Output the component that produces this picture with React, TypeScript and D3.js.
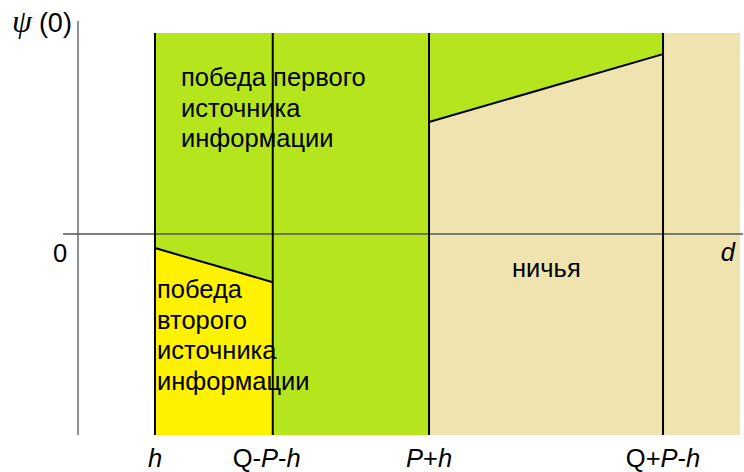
import React from "react";
import * as d3 from "d3";

// Boundaries on the d axis
const boundaryNames = ["h", "Q-P-h", "P+h", "Q+P-h"];
const boundaryValues = [1, 2.53, 4.56, 7.6];
const dMax = 8.6;

// Border between "second source wins" and the green zone, from h to Q-P-h
const secondWinEdge = [-0.07, -0.24];
// Border between "first source wins" and the draw zone, from P+h to Q+P-h
const drawEdge = [0.557, 0.895];

const regionColors = { first: "#b5e61d", second: "#fff200", draw: "#efe4b0" };

const firstText = ["победа первого", "источника", "информации"];
const secondText = ["победа", "второго", "источника", "информации"];
const drawText = "ничья";

const W = 744;
const H = 472;

export default function App() {
  const x = d3.scaleLinear().domain([0, dMax]).range([78, 740]);
  const y = d3.scaleLinear().domain([-1, 1]).range([435, 33]);
  const [bh, bq1, bp, bq2] = boundaryValues;

  const poly = (pts: [number, number][]) =>
    d3.line()(pts.map(([a, b]) => [x(a), y(b)] as [number, number])) + "Z";

  const greenFull = poly([
    [bh, 1],
    [bp, 1],
    [bp, -1],
    [bh, -1],
  ]);
  const greenUpper = poly([
    [bp, 1],
    [bq2, 1],
    [bq2, drawEdge[1]],
    [bp, drawEdge[0]],
  ]);
  const drawLower = poly([
    [bp, drawEdge[0]],
    [bq2, drawEdge[1]],
    [bq2, -1],
    [bp, -1],
  ]);
  const drawRight = poly([
    [bq2, 1],
    [dMax, 1],
    [dMax, -1],
    [bq2, -1],
  ]);
  const yellow = poly([
    [bh, secondWinEdge[0]],
    [bq1, secondWinEdge[1]],
    [bq1, -1],
    [bh, -1],
  ]);

  const textFont = "'Liberation Sans', Arial, sans-serif";
  const fs = 25.5;

  return (
    <svg
      width={W}
      height={H}
      style={{ position: "absolute", left: 0, top: 0, background: "#fff" }}
    >
      <path d={greenFull} fill={regionColors.first} />
      <path d={greenUpper} fill={regionColors.first} />
      <path d={drawLower} fill={regionColors.draw} />
      <path d={drawRight} fill={regionColors.draw} />
      <path d={yellow} fill={regionColors.second} />

      {/* region borders */}
      <line
        x1={x(bh)}
        y1={y(secondWinEdge[0])}
        x2={x(bq1)}
        y2={y(secondWinEdge[1])}
        stroke="#000"
        strokeWidth={2}
      />
      <line
        x1={x(bp)}
        y1={y(drawEdge[0])}
        x2={x(bq2)}
        y2={y(drawEdge[1])}
        stroke="#000"
        strokeWidth={2}
      />

      {/* axes */}
      <line x1={63} y1={y(0)} x2={743} y2={y(0)} stroke="#555" strokeWidth={1.3} />
      <line x1={x(0)} y1={21} x2={x(0)} y2={435} stroke="#555" strokeWidth={1.3} />

      {/* boundary lines */}
      {boundaryValues.map((v, i) => (
        <line
          key={i}
          x1={x(v)}
          y1={y(1)}
          x2={x(v)}
          y2={y(-1)}
          stroke="#000"
          strokeWidth={2}
        />
      ))}

      {/* region captions */}
      <text fontFamily={textFont} fontSize={fs} fill="#000">
        {firstText.map((t, i) => (
          <tspan key={i} x={181} y={86 + i * 30.5}>
            {t}
          </tspan>
        ))}
      </text>
      <text fontFamily={textFont} fontSize={fs} fill="#000">
        {secondText.map((t, i) => (
          <tspan key={i} x={157} y={298 + i * 30.7}>
            {t}
          </tspan>
        ))}
      </text>
      <text x={512} y={277} fontFamily={textFont} fontSize={fs} fill="#000">
        {drawText}
      </text>

      {/* axis labels */}
      <text x={60} y={262} textAnchor="middle" fontFamily={textFont} fontSize={fs} fill="#000">
        0
      </text>
      <text x={735} y={261} textAnchor="end" fontFamily={textFont} fontStyle="italic" fontSize={fs} fill="#000">
        d
      </text>
      <text x={12} y={32} fontSize={27} fill="#000">
        <tspan fontFamily="'Liberation Serif', serif" fontStyle="italic" fontSize={32}>
          ψ
        </tspan>
        <tspan fontFamily={textFont} dx={7}>
          (0)
        </tspan>
      </text>

      {/* boundary labels */}
      {boundaryNames.map((name, i) => (
        <text
          key={name}
          x={x(boundaryValues[i]) + (i === 1 ? -6 : 0)}
          y={467}
          textAnchor="middle"
          fontFamily={textFont}
          fontSize={fs}
          fill="#000"
        >
          {name.split("").map((c, j) => (
            <tspan key={j} fontStyle={c === "P" || c === "h" ? "italic" : "normal"}>
              {c}
            </tspan>
          ))}
        </text>
      ))}
    </svg>
  );
}
